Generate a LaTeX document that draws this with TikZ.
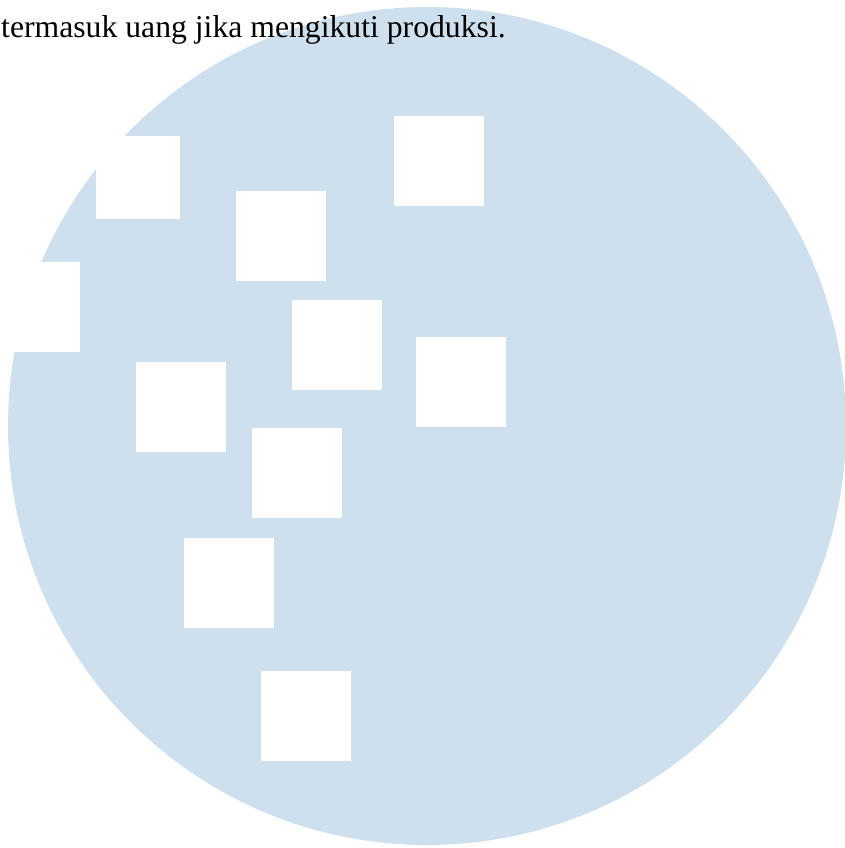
\documentclass[tikz,border=0pt]{standalone}
\usepackage{fontspec}
\setmainfont{Liberation Serif}
\usepackage{xcolor}
\usetikzlibrary{positioning, shapes.geometric}
\definecolor{paleblue}{RGB}{206,224,238}
\tikzset{
    disc/.style={circle, fill=paleblue, inner sep=0pt, minimum size=838pt},
    tile/.style={rectangle, fill=white, inner sep=0pt, minimum size=90pt, anchor=north west},
    smalltile/.style={rectangle, fill=white, inner sep=0pt, minimum width=84pt, minimum height=83pt, anchor=north west},
    caption/.style={font=\fontsize{31.7}{38}\selectfont, inner sep=0pt, anchor=base west},
}

\begin{document}
\begin{tikzpicture}[x=1pt, y=-1pt]
        \useasboundingbox (0,0) rectangle (845,848);
        \clip (0,0) rectangle (845,848);
        \node [disc] (bg) at (427,426) {};
        \node [smalltile] (ta) at (96,136) {};
        \node [tile] (tb) at (236,191) {};
        \node [tile] (tc) at (394,116) {};
        \node [tile] (td) at (-10,262) {};
        \node [tile] (te) at (292,300) {};
        \node [tile] (tf) at (416,337) {};
        \node [tile] (tg) at (136,362) {};
        \node [tile] (th) at (252,428) {};
        \node [tile] (ti) at (184,538) {};
        \node [tile] (tj) at (261,671) {};
        \node [caption] (txt) at (1,38) {termasuk uang jika mengikuti produksi.};
    \end{tikzpicture}
\end{document}
